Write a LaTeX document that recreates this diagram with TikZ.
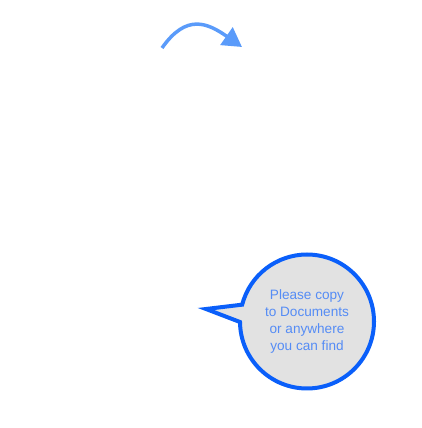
\documentclass[tikz,border=0pt]{standalone}
\usepackage{fontspec}
\setmainfont{Liberation Sans}
\usetikzlibrary{shapes.callouts, arrows.meta}
\definecolor{bubbleline}{RGB}{10,95,250}
\definecolor{bubblefill}{RGB}{226,226,226}
\definecolor{bubbletext}{RGB}{85,140,245}
\definecolor{arcblue}{RGB}{90,155,250}
\tikzset{bubble/.style={
        draw=bubbleline,
        line width=4pt,
        fill=bubblefill,
        ellipse callout,
        callout pointer arc=15,
        minimum width=134pt,
        minimum height=134pt,
        inner sep=0pt,
        align=center,
        text=bubbletext,
        font=\fontsize{13.6}{17}\selectfont
}}
\tikzset{hintarrow/.style={draw=arcblue,line width=3.5pt,-{Triangle[length=19pt,width=21pt]}}}

\begin{document}
\begin{tikzpicture}[x=1pt,y=1pt]
\useasboundingbox (0,0) rectangle (422,428);
\coordinate (arcstart) at (162,380);
\coordinate (arctip) at (242,381);
\coordinate (tailtip) at (206,119);
\node[bubble, callout absolute pointer={(tailtip)}] (hint) at (307,106.5) {Please copy\\to Documents\\or anywhere\\you can find};

\draw[hintarrow] (arcstart) to[out=55, in=145, looseness=1.35] (arctip);
\end{tikzpicture}
\end{document}
